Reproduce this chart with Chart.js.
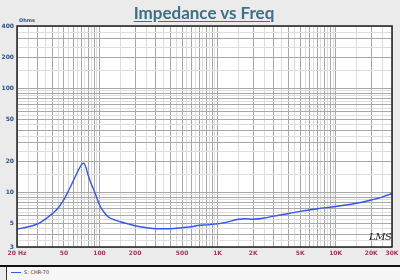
<!DOCTYPE html>
<html>
<head>
<meta charset="utf-8">
<script src="https://cdn.jsdelivr.net/npm/chart.js@4.4.1/dist/chart.umd.min.js"></script>
<style>
  body { margin: 0; background: #ebebeb; font-family: 'DejaVu Sans', sans-serif; }
  #wrap { position: relative; width: 400px; height: 280px; overflow: hidden; }
  #title {
    position: absolute; left: 0; width: 408px; top: 2px; text-align: center;
    font-family: 'Liberation Sans Narrow', 'Lato', sans-serif; font-weight: bold;
    font-size: 17px; color: #3f6f86; text-decoration: underline; text-underline-offset: 2px;
  }
  #ohms { position: absolute; left: 19px; top: 17px; font-size: 5px; color: #2b4f7a; font-weight: bold; }
  #lms { position: absolute; left: 369px; top: 231px; font-family: 'DejaVu Serif', serif; font-style: italic; font-size: 10px; color: #222; letter-spacing: -0.5px; }
  #rule { position: absolute; left: 0; top: 265px; width: 400px; height: 2px; background: #111; }
  #legend { position: absolute; left: 6px; top: 267px; width: 394px; height: 13px; background: #f6f6f6; border-left: 1px solid #333; }
  #legend .swatch { position: absolute; left: 4px; top: 5px; width: 10px; height: 1px; background: #3355ee; }
  #legend .label { position: absolute; left: 17px; top: 2px; font-size: 5px; color: #333; }
  canvas { position: absolute; left: 0; top: 0; }
</style>
</head>
<body>
<div id="wrap">
  <canvas id="chart" width="400" height="280"></canvas>
  <div id="title">Impedance vs Freq</div>
  <div id="ohms">Ohms</div>
  <div id="lms">LMS</div>
  <div id="rule"></div>
  <div id="legend"><div class="swatch"></div><div class="label">S: CHR-70</div></div>
</div>
<script>
const freqHz = [20, 25, 30, 35, 40, 45, 50, 55, 60, 65, 70, 73, 76, 80, 85, 90, 95, 100, 110, 120, 135, 150, 175, 200, 250, 300, 400, 500, 600, 700, 800, 1000, 1200, 1500, 1700, 2000, 2500, 3000, 4000, 5000, 7000, 10000, 15000, 20000, 25000, 30000];
const impedanceOhms = [4.45, 4.7, 5.0, 5.6, 6.3, 7.2, 8.6, 10.6, 13.0, 15.8, 18.4, 19.2, 18.0, 14.8, 12.2, 10.4, 8.9, 7.6, 6.4, 5.8, 5.45, 5.25, 5.0, 4.8, 4.6, 4.5, 4.5, 4.6, 4.7, 4.85, 4.9, 5.0, 5.2, 5.55, 5.6, 5.55, 5.7, 5.95, 6.3, 6.6, 7.0, 7.35, 7.9, 8.5, 9.1, 9.8];

const xLabelValues = [20, 50, 100, 200, 500, 1000, 2000, 5000, 10000, 20000, 30000];
const xLabelText = ['20 Hz', '50', '100', '200', '500', '1K', '2K', '5K', '10K', '20K', '30K'];
const yLabelValues = [3, 5, 10, 20, 50, 100, 200, 400];
const yLabelText = ['3', '5', '10', '20', '50', '100', '200', '400'];

// grid lines at whole and half steps inside each decade
const gridValues = (min, max) => {
  const out = [];
  for (let d = 1; d <= 10000; d *= 10) {
    for (let m = 1; m < 10; m += 0.5) {
      const v = m * d;
      if (v >= min - 1e-9 && v <= max + 1e-9) out.push(v);
    }
  }
  return out;
};

const isWhole = (v) => {
  const d = Math.pow(10, Math.floor(Math.log10(v) + 1e-9));
  const m = v / d;
  return Math.abs(m - Math.round(m)) < 1e-6;
};

const labelFor = (values, texts, v) => {
  const i = values.findIndex((x) => Math.abs(x - v) < 1e-6);
  return i >= 0 ? texts[i] : '';
};

const gridColor = (ctx) => (ctx.tick && isWhole(ctx.tick.value) ? '#a8a8a8' : '#dedede');

const plotFrame = {
  id: 'plotFrame',
  beforeDraw(chart) {
    const a = chart.chartArea;
    chart.ctx.save();
    chart.ctx.fillStyle = '#ffffff';
    chart.ctx.fillRect(a.left, a.top, a.right - a.left, a.bottom - a.top);
    chart.ctx.restore();
  },
  afterDraw(chart) {
    const a = chart.chartArea;
    const ctx = chart.ctx;
    ctx.save();
    ctx.strokeStyle = '#222';
    ctx.lineWidth = 1.5;
    ctx.strokeRect(a.left, a.top, a.right - a.left, a.bottom - a.top);
    ctx.restore();
  },
};

new Chart(document.getElementById('chart'), {
  type: 'line',
  data: {
    datasets: [
      {
        label: 'S: CHR-70',
        data: freqHz.map((f, i) => ({ x: f, y: impedanceOhms[i] })),
        borderColor: '#3355ee',
        borderWidth: 1.4,
        pointRadius: 0,
        cubicInterpolationMode: 'monotone',
        fill: false,
      },
    ],
  },
  options: {
    responsive: false,
    animation: false,
    layout: { padding: { top: 26, right: 8, bottom: 20, left: 0 } },
    plugins: { legend: { display: false }, tooltip: { enabled: false } },
    scales: {
      x: {
        type: 'logarithmic',
        min: 20,
        max: 30000,
        afterBuildTicks: (scale) => {
          scale.ticks = gridValues(20, 30000).map((v) => ({ value: v }));
        },
        afterFit: (scale) => {
          scale.height = 13;
          scale.paddingLeft = 0;
          scale.paddingRight = 0;
        },
        ticks: {
          autoSkip: false,
          maxRotation: 0,
          padding: 3,
          color: '#a8345e',
          font: { family: 'DejaVu Sans', size: 6, weight: 'bold' },
          callback: (v) => labelFor(xLabelValues, xLabelText, v),
        },
        grid: { color: gridColor, drawTicks: false, lineWidth: 1 },
        border: { display: false },
      },
      y: {
        type: 'logarithmic',
        min: 3,
        max: 400,
        afterBuildTicks: (scale) => {
          scale.ticks = gridValues(3, 400).map((v) => ({ value: v }));
        },
        afterFit: (scale) => {
          scale.width = 17;
          scale.paddingTop = 0;
          scale.paddingBottom = 0;
        },
        ticks: {
          autoSkip: false,
          padding: 3,
          color: '#2b4f7a',
          font: { family: 'DejaVu Sans', size: 6, weight: 'bold' },
          callback: (v) => labelFor(yLabelValues, yLabelText, v),
        },
        grid: { color: gridColor, drawTicks: false, lineWidth: 1 },
        border: { display: false },
      },
    },
  },
  plugins: [plotFrame],
});
</script>
</body>
</html>
